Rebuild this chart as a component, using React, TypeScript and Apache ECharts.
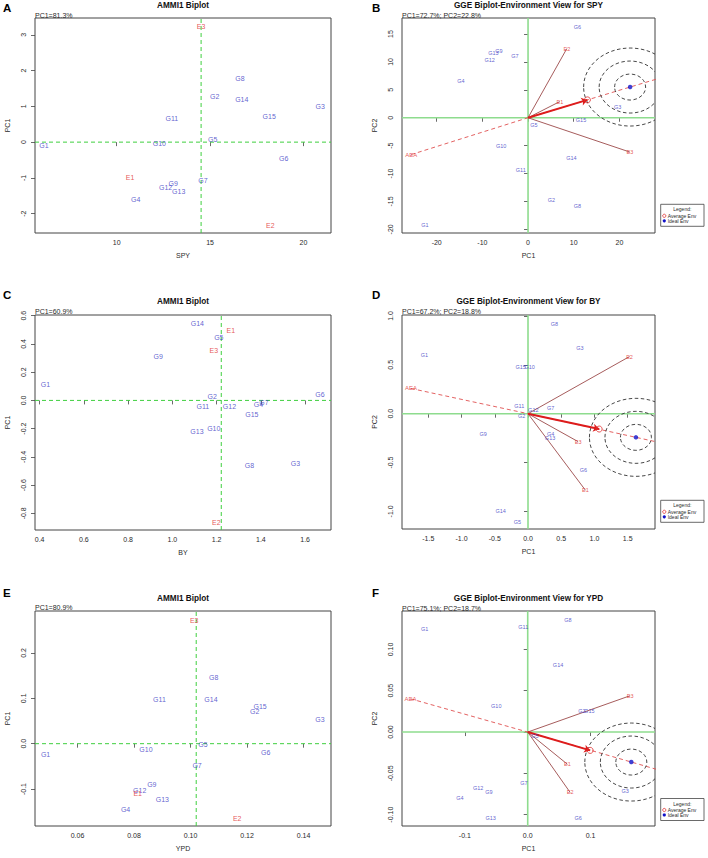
import React, { useEffect, useRef } from "react";
import * as echarts from "echarts";

const FONT = "'Liberation Sans', Arial, Helvetica, sans-serif";

const GENOTYPES = ["G1", "G2", "G3", "G4", "G5", "G6", "G7", "G8", "G9", "G10", "G11", "G12", "G13", "G14", "G15"];
const ENVIRONMENTS = ["E1", "E2", "E3"];

// ---------- Panel A: AMMI1 biplot, SPY ----------
const A_GEN_X = [6.1, 15.25, 20.9, 11.02, 15.14, 18.95, 14.62, 16.6, 13.03, 12.28, 12.95, 12.62, 13.32, 16.7, 18.17];
const A_GEN_Y = [-0.09, 1.27, 1.0, -1.59, 0.07, -0.46, -1.06, 1.79, -1.15, -0.04, 0.65, -1.28, -1.38, 1.18, 0.71];
const A_ENV_X = [10.71, 18.23, 14.52];
const A_ENV_Y = [-0.99, -2.33, 3.23];
const A_MEAN = 14.52;
const A_X_RANGE = [5.62, 21.48];
const A_Y_RANGE = [-2.54, 3.47];
const A_X_TICKS = [10, 15, 20];
const A_Y_TICKS = [-2, -1, 0, 1, 2, 3];

// ---------- Panel B: GGE environment view, SPY ----------
const B_GEN_X = [-22.6, 5.1, 19.6, -14.7, 1.3, 10.8, -2.9, 10.8, -6.4, -5.9, -1.6, -8.4, -7.6, 9.5, 11.6];
const B_GEN_Y = [-19.2, -14.7, 2.0, 6.6, -1.3, 16.3, 11.0, -15.8, 11.9, -5.1, -9.3, 10.3, 11.65, -7.2, -0.36];
const B_ENV_X = [6.96, 8.5, 22.3];
const B_ENV_Y = [2.9, 12.4, -6.15];
const B_AVG = [13.0, 3.2];
const B_IDEAL = [22.35, 5.5];
const B_AEA = [-25.6, -6.6];
const B_X_RANGE = [-27.6, 27.8];
const B_Y_RANGE = [-20.65, 17.87];
const B_X_TICKS = [-20, -10, 0, 10, 20];
const B_Y_TICKS = [-20, -15, -10, -5, 0, 5, 10, 15];

// ---------- Panel C: AMMI1 biplot, BY ----------
const C_GEN_X = [0.426, 1.18, 1.556, 1.389, 1.21, 1.667, 1.414, 1.348, 0.936, 1.187, 1.138, 1.258, 1.111, 1.113, 1.359];
const C_GEN_Y = [0.11, 0.03, -0.444, -0.026, 0.443, 0.045, -0.017, -0.458, 0.309, -0.2, -0.042, -0.045, -0.22, 0.542, -0.097];
const C_ENV_X = [1.264, 1.199, 1.187];
const C_ENV_Y = [0.496, -0.862, 0.351];
const C_MEAN = 1.221;
const C_X_RANGE = [0.379, 1.717];
const C_Y_RANGE = [-0.918, 0.605];
const C_X_TICKS = [0.4, 0.6, 0.8, 1.0, 1.2, 1.4, 1.6];
const C_Y_TICKS = [-0.8, -0.6, -0.4, -0.2, 0.0, 0.2, 0.4, 0.6];

// ---------- Panel D: GGE environment view, BY ----------
const D_GEN_X = [-1.558, -0.095, 0.78, 0.342, -0.161, 0.834, 0.342, 0.397, -0.674, 0.025, -0.131, 0.08, 0.332, -0.412, -0.11];
const D_GEN_Y = [0.603, -0.028, 0.674, -0.204, -1.11, -0.579, 0.054, 0.919, -0.208, 0.473, 0.075, 0.037, -0.245, -0.995, 0.473];
const D_ENV_X = [0.864, 1.528, 0.754];
const D_ENV_Y = [-0.783, 0.585, -0.286];
const D_AVG = [1.071, -0.157];
const D_IDEAL = [1.624, -0.242];
const D_AEA = [-1.76, 0.258];
const D_X_RANGE = [-1.896, 1.911];
const D_Y_RANGE = [-1.18, 1.01];
const D_X_TICKS = [-1.5, -1.0, -0.5, 0.0, 0.5, 1.0, 1.5];
const D_Y_TICKS = [-1.0, -0.5, 0.0, 0.5, 1.0];

// ---------- Panel E: AMMI1 biplot, YPD ----------
const E_GEN_X = [0.0487, 0.1227, 0.1458, 0.077, 0.1044, 0.1266, 0.1023, 0.1082, 0.0863, 0.0842, 0.089, 0.082, 0.09, 0.1072, 0.1246];
const E_GEN_Y = [-0.023, 0.072, 0.054, -0.145, -0.001, -0.019, -0.049, 0.146, -0.089, -0.012, 0.097, -0.104, -0.122, 0.098, 0.082];
const E_ENV_X = [0.0813, 0.1165, 0.1013];
const E_ENV_Y = [-0.11, -0.166, 0.271];
const E_MEAN = 0.102;
const E_X_RANGE = [0.04495, 0.1497];
const E_Y_RANGE = [-0.1815, 0.2925];
const E_X_TICKS = [0.06, 0.08, 0.1, 0.12, 0.14];
const E_Y_TICKS = [-0.1, 0.0, 0.1, 0.2];

// ---------- Panel F: GGE environment view, YPD ----------
const F_GEN_X = [-0.1638, 0.0861, 0.155, -0.108, 0.0116, 0.0802, -0.006, 0.0638, -0.0617, -0.05, -0.007, -0.0788, -0.059, 0.0483, 0.098];
const F_GEN_Y = [0.125, 0.0258, -0.071, -0.0803, -0.0045, -0.1046, -0.0614, 0.136, -0.0726, 0.0318, 0.1266, -0.0674, -0.104, 0.0815, 0.0258];
const F_ENV_X = [0.0632, 0.0675, 0.163];
const F_ENV_Y = [-0.039, -0.0731, 0.044];
const F_AVG = [0.0994, -0.0222];
const F_IDEAL = [0.1648, -0.0363];
const F_AEA = [-0.1866, 0.0403];
const F_X_RANGE = [-0.2, 0.2025];
const F_Y_RANGE = [-0.1137, 0.1465];
const F_X_TICKS = [-0.1, 0.0, 0.1];
const F_Y_TICKS = [-0.1, -0.05, 0.0, 0.05, 0.1];

// ---------- styling / layout ----------
const TXT = "#2a2a2a";
const BOX = "#444";
const GEN_COLOR = "#3838c4";
const ENV_COLOR = "#e02c2c";
const VEC_COLOR = "#9c4a4a";
const AMMI_GREEN = "#3fcf3f";
const GGE_GREEN = "#8edc8e";
const RING_RX = [15.5, 31, 46.5];
const RING_RY = [13, 26, 39];

type Box = { left: number; top: number; width: number; height: number };
type Ammi = {
  letter: string; title: string; pc: string; xName: string;
  genX: number[]; genY: number[]; envX: number[]; envY: number[]; mean: number;
  xRange: number[]; yRange: number[]; xTicks: number[]; yTicks: number[]; xDec: number; yDec: number;
  grid: Box; titleY: number; pcY: number; letterY: number;
};
type Gge = {
  letter: string; title: string; pc: string;
  genX: number[]; genY: number[]; envX: number[]; envY: number[];
  avg: number[]; ideal: number[]; aea: number[];
  xRange: number[]; yRange: number[]; xTicks: number[]; yTicks: number[]; xDec: number; yDec: number;
  grid: Box; titleY: number; pcY: number; letterY: number; legendY: number;
};

const AMMI: Ammi[] = [
  { letter: "A", title: "AMMI1 Biplot", pc: "PC1=81.3%", xName: "SPY", genX: A_GEN_X, genY: A_GEN_Y, envX: A_ENV_X, envY: A_ENV_Y, mean: A_MEAN,
    xRange: A_X_RANGE, yRange: A_Y_RANGE, xTicks: A_X_TICKS, yTicks: A_Y_TICKS, xDec: 0, yDec: 0,
    grid: { left: 35, top: 18, width: 296, height: 215 }, titleY: 5.5, pcY: 15, letterY: 7.5 },
  { letter: "C", title: "AMMI1 Biplot", pc: "PC1=60.9%", xName: "BY", genX: C_GEN_X, genY: C_GEN_Y, envX: C_ENV_X, envY: C_ENV_Y, mean: C_MEAN,
    xRange: C_X_RANGE, yRange: C_Y_RANGE, xTicks: C_X_TICKS, yTicks: C_Y_TICKS, xDec: 1, yDec: 1,
    grid: { left: 35, top: 315, width: 296, height: 215 }, titleY: 301.7, pcY: 311, letterY: 294.5 },
  { letter: "E", title: "AMMI1 Biplot", pc: "PC1=80.9%", xName: "YPD", genX: E_GEN_X, genY: E_GEN_Y, envX: E_ENV_X, envY: E_ENV_Y, mean: E_MEAN,
    xRange: E_X_RANGE, yRange: E_Y_RANGE, xTicks: E_X_TICKS, yTicks: E_Y_TICKS, xDec: 2, yDec: 1,
    grid: { left: 35, top: 611, width: 296, height: 215 }, titleY: 598.7, pcY: 607, letterY: 593 },
];

const GGE: Gge[] = [
  { letter: "B", title: "GGE Biplot-Environment View for SPY", pc: "PC1=72.7%; PC2=22.8%", genX: B_GEN_X, genY: B_GEN_Y, envX: B_ENV_X, envY: B_ENV_Y,
    avg: B_AVG, ideal: B_IDEAL, aea: B_AEA, xRange: B_X_RANGE, yRange: B_Y_RANGE, xTicks: B_X_TICKS, yTicks: B_Y_TICKS, xDec: 0, yDec: 0,
    grid: { left: 402, top: 18, width: 253, height: 215 }, titleY: 5.5, pcY: 15, letterY: 7.5, legendY: 204.3 },
  { letter: "D", title: "GGE Biplot-Environment View for BY", pc: "PC1=67.2%; PC2=18.8%", genX: D_GEN_X, genY: D_GEN_Y, envX: D_ENV_X, envY: D_ENV_Y,
    avg: D_AVG, ideal: D_IDEAL, aea: D_AEA, xRange: D_X_RANGE, yRange: D_Y_RANGE, xTicks: D_X_TICKS, yTicks: D_Y_TICKS, xDec: 1, yDec: 1,
    grid: { left: 402, top: 315, width: 253, height: 214 }, titleY: 301, pcY: 311, letterY: 294.5, legendY: 500.3 },
  { letter: "F", title: "GGE Biplot-Environment View for YPD", pc: "PC1=75.1%; PC2=18.7%", genX: F_GEN_X, genY: F_GEN_Y, envX: F_ENV_X, envY: F_ENV_Y,
    avg: F_AVG, ideal: F_IDEAL, aea: F_AEA, xRange: F_X_RANGE, yRange: F_Y_RANGE, xTicks: F_X_TICKS, yTicks: F_Y_TICKS, xDec: 1, yDec: 2,
    grid: { left: 402, top: 611, width: 253, height: 215 }, titleY: 598.7, pcY: 608, letterY: 593, legendY: 798.5 },
];

function points(names: string[], xs: number[], ys: number[]) {
  return names.map((n, i) => ({ name: n, value: [xs[i], ys[i]] }));
}

function makeAxis(gridIndex: number, range: number[], ticks: number[], dec: number, name: string, isY: boolean) {
  return {
    type: "value",
    gridIndex,
    min: range[0],
    max: range[1],
    name,
    nameLocation: "middle",
    nameGap: isY ? 24 : 19,
    nameRotate: isY ? 90 : 0,
    nameTextStyle: { fontSize: 7, color: TXT, fontFamily: FONT },
    axisLine: { show: false },
    splitLine: { show: false },
    axisTick: { show: true, inside: false, length: 4, lineStyle: { color: BOX, width: 0.8 }, customValues: ticks },
    axisLabel: {
      show: true, customValues: ticks, formatter: (v: number) => Number(v).toFixed(dec),
      fontSize: 7, color: TXT, fontFamily: FONT, margin: isY ? 8 : 6, rotate: isY ? 90 : 0,
    },
  };
}

function labelScatter(idx: number, data: any[], color: string, size: number, z: number) {
  return {
    type: "scatter", xAxisIndex: idx, yAxisIndex: idx, silent: true, z,
    symbol: "circle", symbolSize: 1, itemStyle: { color: "transparent" },
    label: { show: true, position: "inside", formatter: "{b}", color, fontSize: size, fontFamily: FONT },
    data,
  };
}

function refLine(idx: number, data: number[][], color: string, width: number, dash: any, z: number) {
  return {
    type: "line", xAxisIndex: idx, yAxisIndex: idx, silent: true, z, showSymbol: false, symbol: "none",
    lineStyle: { color, width, type: dash, opacity: 1 },
    itemStyle: { color },
    data,
  };
}

function txt(x: number, y: number, text: string, font: string, align = "left", fill = TXT) {
  return { type: "text", x, y, silent: true, style: { text, font, fill, textAlign: align, textVerticalAlign: "middle" } };
}

function buildOption() {
  const grids: any[] = [];
  const xAxes: any[] = [];
  const yAxes: any[] = [];
  const series: any[] = [];
  const graphic: any[] = [];

  AMMI.forEach((p) => {
    const idx = grids.length;
    grids.push({ ...p.grid, show: true, borderColor: BOX, borderWidth: 1, backgroundColor: "transparent", containLabel: false, outerBoundsMode: "none" });
    xAxes.push(makeAxis(idx, p.xRange, p.xTicks, p.xDec, p.xName, false));
    yAxes.push(makeAxis(idx, p.yRange, p.yTicks, p.yDec, "PC1", true));
    // dashed reference lines: grand mean (vertical) and PC1 = 0 (horizontal)
    series.push(refLine(idx, [[p.mean, p.yRange[0]], [p.mean, p.yRange[1]]], AMMI_GREEN, 1, [4, 3], 2));
    series.push(refLine(idx, [[p.xRange[0], 0], [p.xRange[1], 0]], AMMI_GREEN, 1, [4, 3], 2));
    series.push(labelScatter(idx, points(GENOTYPES, p.genX, p.genY), GEN_COLOR, 7, 3));
    series.push(labelScatter(idx, points(ENVIRONMENTS, p.envX, p.envY), ENV_COLOR, 7, 4));
    const cx = p.grid.left + p.grid.width / 2;
    graphic.push(txt(cx, p.titleY, p.title, `bold 8.2px ${FONT}`, "center", "#111"));
    graphic.push(txt(p.grid.left, p.pcY, p.pc, `7px ${FONT}`));
    graphic.push(txt(3, p.letterY, p.letter, `bold 11.5px ${FONT}`, "left", "#000"));
  });

  GGE.forEach((p) => {
    const idx = grids.length;
    grids.push({ ...p.grid, show: true, borderColor: BOX, borderWidth: 1, backgroundColor: "transparent", containLabel: false, outerBoundsMode: "none" });
    xAxes.push(makeAxis(idx, p.xRange, p.xTicks, p.xDec, "PC1", false));
    yAxes.push(makeAxis(idx, p.yRange, p.yTicks, p.yDec, "PC2", true));
    // green axes through the origin
    series.push(refLine(idx, [[0, p.yRange[0]], [0, p.yRange[1]]], GGE_GREEN, 1.6, "solid", 1));
    series.push(refLine(idx, [[p.xRange[0], 0], [p.xRange[1], 0]], GGE_GREEN, 1.6, "solid", 1));
    // average-environment axis (dashed) through the origin
    series.push(refLine(idx, [p.aea, [0, 0], [p.ideal[0] * 3, p.ideal[1] * 3]], "#e05050", 0.9, [4, 3], 2));
    // concentric rings around the ideal environment
    series.push({
      type: "custom", xAxisIndex: idx, yAxisIndex: idx, silent: true, z: 3, clip: true,
      data: [p.ideal],
      renderItem: (_params: any, api: any) => {
        const c = api.coord([api.value(0), api.value(1)]);
        return {
          type: "group",
          children: RING_RX.map((rx, k) => ({
            type: "ellipse",
            shape: { cx: c[0], cy: c[1], rx, ry: RING_RY[k] },
            style: { fill: "none", stroke: "#333", lineWidth: 0.9, lineDash: [3.5, 2.5] },
          })),
        };
      },
    });
    // environment vectors
    series.push({
      type: "lines", coordinateSystem: "cartesian2d", xAxisIndex: idx, yAxisIndex: idx, silent: true, z: 4,
      lineStyle: { color: VEC_COLOR, width: 0.9, opacity: 1 },
      data: ENVIRONMENTS.map((_, i) => ({ coords: [[0, 0], [p.envX[i], p.envY[i]]] })),
    });
    // arrow to average environment
    series.push({
      type: "lines", coordinateSystem: "cartesian2d", xAxisIndex: idx, yAxisIndex: idx, silent: true, z: 5,
      symbol: ["none", "arrow"], symbolSize: 6,
      lineStyle: { color: "#dd1c1c", width: 2, opacity: 1 },
      data: [{ coords: [[0, 0], p.avg] }],
    });
    series.push(labelScatter(idx, points(GENOTYPES, p.genX, p.genY), GEN_COLOR, 5.5, 6));
    series.push(labelScatter(idx, points(ENVIRONMENTS, p.envX, p.envY), ENV_COLOR, 5.5, 6));
    series.push(labelScatter(idx, [{ name: "AEA", value: p.aea }], ENV_COLOR, 6, 6));
    series.push({
      type: "scatter", xAxisIndex: idx, yAxisIndex: idx, silent: true, z: 7, symbol: "circle", symbolSize: 6,
      itemStyle: { color: "transparent", borderColor: "#e02c2c", borderWidth: 1 }, data: [p.avg],
    });
    series.push({
      type: "scatter", xAxisIndex: idx, yAxisIndex: idx, silent: true, z: 7, symbol: "circle", symbolSize: 4.5,
      itemStyle: { color: "#1010c8" }, data: [p.ideal],
    });
    const cx = p.grid.left + p.grid.width / 2;
    graphic.push(txt(cx, p.titleY, p.title, `bold 8.2px ${FONT}`, "center", "#111"));
    graphic.push(txt(p.grid.left, p.pcY, p.pc, `7px ${FONT}`));
    graphic.push(txt(372, p.letterY, p.letter, `bold 11.5px ${FONT}`, "left", "#000"));
    // legend box
    const lx = 660.7;
    const ly = p.legendY;
    graphic.push({ type: "rect", silent: true, shape: { x: lx, y: ly, width: 43.3, height: 22 }, style: { fill: "#fff", stroke: "#444", lineWidth: 0.8 } });
    graphic.push(txt(lx + 21.6, ly + 5, "Legend:", `5px ${FONT}`, "center"));
    graphic.push({ type: "circle", silent: true, shape: { cx: lx + 3.6, cy: ly + 11.5, r: 1.6 }, style: { fill: "none", stroke: "#e02c2c", lineWidth: 0.8 } });
    graphic.push(txt(lx + 7, ly + 11.5, "Average Env", `5px ${FONT}`));
    graphic.push({ type: "circle", silent: true, shape: { cx: lx + 3.6, cy: ly + 16.5, r: 1.6 }, style: { fill: "#1010c8" } });
    graphic.push(txt(lx + 7, ly + 16.5, "Ideal Env", `5px ${FONT}`));
  });

  return { animation: false, backgroundColor: "#fff", grid: grids, xAxis: xAxes, yAxis: yAxes, series, graphic };
}

export default function App() {
  const ref = useRef<HTMLDivElement>(null);
  useEffect(() => {
    if (!ref.current) return;
    const chart = echarts.init(ref.current, null, { renderer: "svg" });
    chart.setOption(buildOption() as any);
    return () => chart.dispose();
  }, []);
  return <div ref={ref} style={{ position: "fixed", left: 0, top: 0, width: 708, height: 858, background: "#fff" }} />;
}
